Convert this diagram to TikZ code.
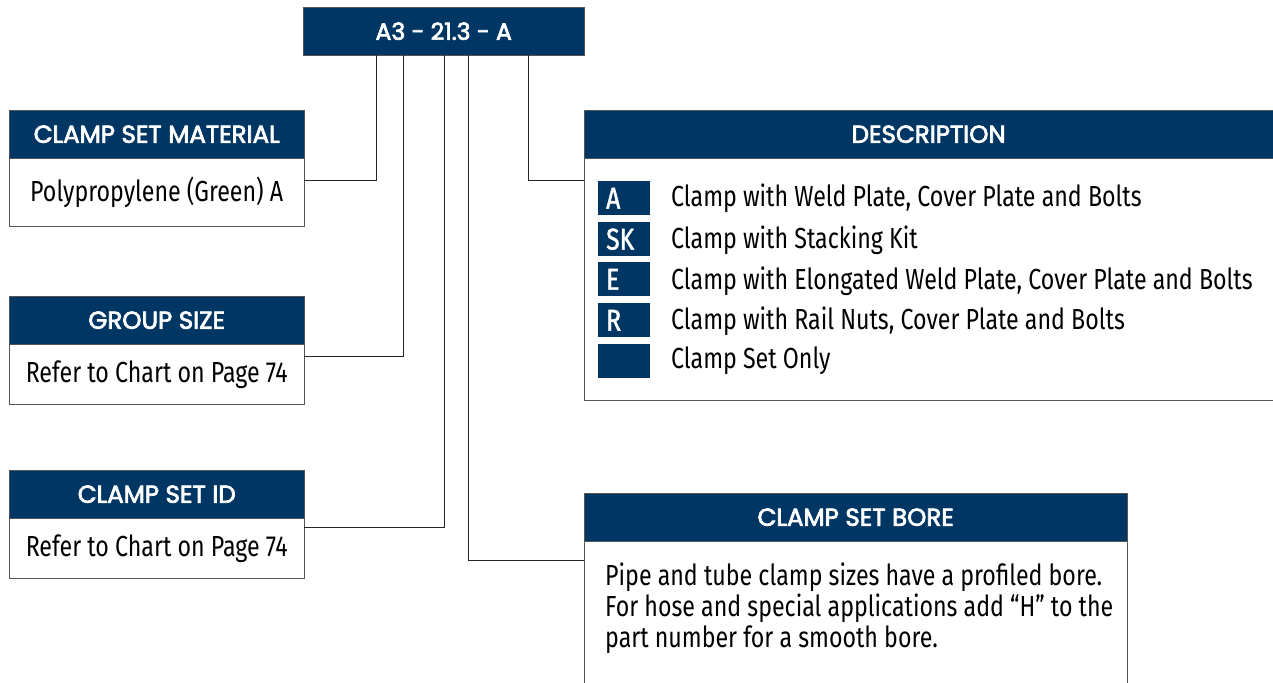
\documentclass[tikz,border=0pt]{standalone}
\usepackage{fontspec}
\usetikzlibrary{positioning, calc}
\newfontfamily\headfont[FakeBold=3]{Poppins}
\newfontfamily\bodyfont[FakeStretch=0.8]{Fira Sans}
\newfontfamily\badgefont[FakeStretch=0.82, FakeBold=1.5]{Fira Sans}
\definecolor{navy}{RGB}{0,54,99}
\definecolor{rim}{RGB}{85,85,85}

\begin{document}
\begin{tikzpicture}[x=1pt, y=-1pt,
  head/.style={draw=rim, fill=navy, text=white, minimum height=48, inner sep=0pt,
               anchor=north west, font=\headfont\fontsize{24.5}{26}\selectfont},
  body/.style={draw=rim, fill=white, inner sep=0pt, anchor=north,
               font=\bodyfont\fontsize{29}{31}\selectfont},
  badge/.style={fill=navy, text=white, minimum height=34, inner ysep=0pt, inner xsep=8pt,
                text width=36pt, align=left, anchor=north west,
                font=\badgefont\fontsize{30}{30}\selectfont},
  item/.style={anchor=west, inner sep=0pt, font=\bodyfont\fontsize{29}{31}\selectfont},
  link/.style={draw=black!85, line width=0.8pt}]
\useasboundingbox (0,0) rectangle (1273,682);
% part number
\node[head, minimum width=281, font=\headfont\fontsize{23.5}{26}\selectfont] (code) at (303,7) {A3 - 21.3 - A};
% left column
\node[head, minimum width=295] (matH) at (9,110) {CLAMP SET MATERIAL};
\node[body, minimum width=295, minimum height=68] (matB) at (matH.south) {Polypropylene (Green) A};
\node[head, minimum width=295] (grpH) at (9,296) {GROUP SIZE};
\node[body, minimum width=295, minimum height=60] (grpB) at (grpH.south) {Refer to Chart on Page 74};
\node[head, minimum width=295] (idH) at (9,470) {CLAMP SET ID};
\node[body, minimum width=295, minimum height=60] (idB) at (idH.south) {Refer to Chart on Page 74};
% description
\node[head, minimum width=700] (desH) at (584,110) {\hspace*{-11pt}DESCRIPTION};
\node[body, minimum width=700, minimum height=242] (desB) at (desH.south) {};
\node[badge] (bA) at (598,181) {A};
\node[badge] (bSK) at (598,222) {SK};
\node[badge] (bE) at (598,262) {E};
\node[badge] (bR) at (598,303) {R};
\node[badge] (bN) at (598,344) {};
\node[item] (tA) at (671,198) {Clamp with Weld Plate, Cover Plate and Bolts};
\node[item] (tSK) at (671,240) {Clamp with Stacking Kit};
\node[item] (tE) at (671,281) {Clamp with Elongated Weld Plate, Cover Plate and Bolts};
\node[item] (tR) at (671,321) {Clamp with Rail Nuts, Cover Plate and Bolts};
\node[item] (tN) at (671,361) {Clamp Set Only};
% bore
\node[head, minimum width=543] (borH) at (584,493) {CLAMP SET BORE};
\node[body, minimum width=543, minimum height=160] (borB) at (borH.south) {};
\node[anchor=north west, inner sep=0pt, align=left, font=\bodyfont\fontsize{29}{31}\selectfont]
  (borT) at (605,563) {Pipe and tube clamp sizes have a profiled bore.\\
  For hose and special applications add “H” to the\\ part number for a smooth bore.};
% connectors
\draw[link] ($(code.south west)+(73,0)$) |- ($(matB.north east)+(0,22)$);
\draw[link] ($(code.south west)+(100,0)$) |- ($(grpB.north east)+(0,12)$);
\draw[link] ($(code.south west)+(141,0)$) |- ($(idB.north east)+(0,9)$);
\draw[link] ($(code.south west)+(165,0)$) |- ($(borB.north west)+(0,19)$);
\draw[link] ($(code.south west)+(225,0)$) |- ($(desB.north west)+(0,22)$);
\end{tikzpicture}
\end{document}
